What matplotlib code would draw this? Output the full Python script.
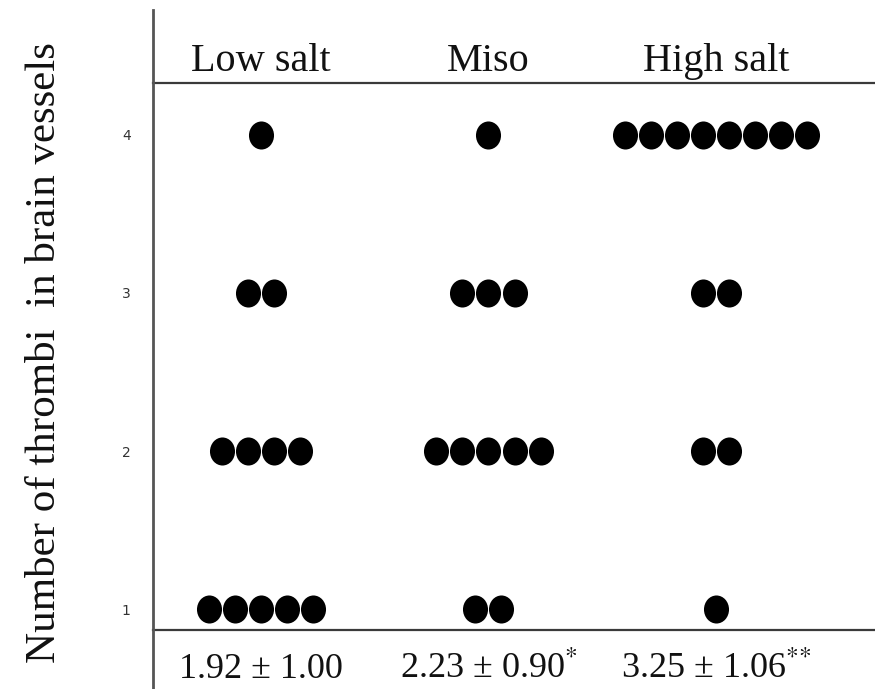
import matplotlib
matplotlib.use("Agg")
import matplotlib.pyplot as plt
from matplotlib.path import Path
from matplotlib.transforms import Affine2D
import matplotlib.transforms as mtransforms

# data: count of animals at each score
groups = ["Low salt", "Miso", "High salt"]
scores = [4, 3, 2, 1]
counts_low = [1, 2, 4, 5]
counts_miso = [1, 3, 5, 2]
counts_high = [8, 2, 2, 1]
summary = ["1.92 \u00b1 1.00", "2.23 \u00b1 0.90$^{{*}}$", "3.25 \u00b1 1.06$^{{*}{*}}$"]

plt.rcParams["mathtext.fontset"] = "stix"

fig = plt.figure(figsize=(8.75, 6.89), dpi=100)
ax = fig.add_axes([153 / 875, 59 / 689, 722 / 875, 547 / 689])
ax.set_xlim(-0.473, 2.697)
ax.set_ylim(0.869, 4.327)

# slightly oval dot
dot = Path.unit_circle().transformed(Affine2D().scale(25 / 28, 1.0))
step = 0.1142

for gi, cnts in enumerate([counts_low, counts_miso, counts_high]):
    for s, n in zip(scores, cnts):
        xs = [gi + (k - (n - 1) / 2) * step for k in range(n)]
        ax.plot(xs, [s] * n, linestyle="none", marker=dot, markersize=20.2,
                color="black", markeredgewidth=0)

for sp in ax.spines.values():
    sp.set_visible(False)

lc = "#3a3a3a"
ax.plot([0, 1], [1, 1], transform=ax.transAxes, color=lc, lw=1.6, clip_on=False)
ax.plot([0, 1], [0, 0], transform=ax.transAxes, color=lc, lw=1.6, clip_on=False)
ax.plot([0, 0], [-0.11, 1.134], transform=ax.transAxes, color="#555555", lw=2.0, clip_on=False)

ax.set_xticks([])
ax.set_yticks(scores)
ax.set_yticklabels([str(s) for s in scores], fontsize=10, color="#333333")
ax.tick_params(axis="y", length=0, pad=16)

trans = mtransforms.blended_transform_factory(ax.transData, ax.transAxes)
for gi, g in enumerate(groups):
    ax.text(gi, 1.022, g, transform=trans, ha="center", va="baseline",
            fontsize=29, family="Liberation Serif", color="#111111")
    ax.text(gi, -0.088, summary[gi], transform=trans, ha="center", va="baseline",
            fontsize=26, family="Liberation Serif", color="#111111")

fig.text(0.0514, 0.488, "Number of thrombi  in brain vessels", rotation=90,
         ha="center", va="center", fontsize=31, family="Liberation Serif", color="#111111")

fig.savefig("out.png", dpi=100)
